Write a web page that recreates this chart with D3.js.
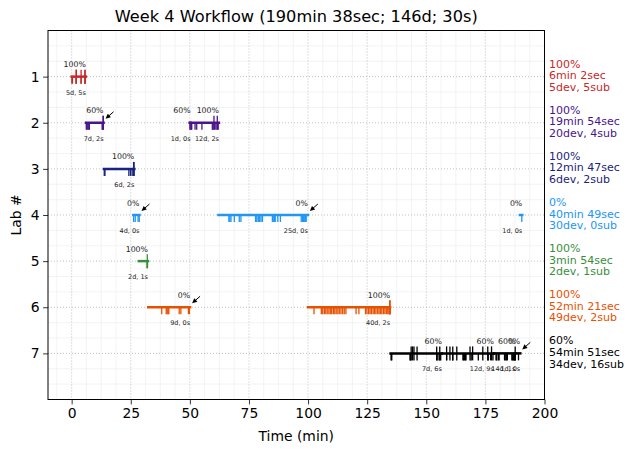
<!DOCTYPE html>
<html><head><meta charset="utf-8">
<script src="https://cdn.jsdelivr.net/npm/d3@7"></script>
<style>body{margin:0;background:#fff}svg{display:block}text{font-family:"DejaVu Sans",sans-serif}</style>
</head><body><svg id="c" width="634" height="453"></svg>
<script>
const title = "Week 4 Workflow (190min 38sec; 146d; 30s)";
const labs = [1, 2, 3, 4, 5, 6, 7];
const xTicks = [0, 25, 50, 75, 100, 125, 150, 175, 200];
const sumPct = ["100%", "100%", "100%", "0%", "100%", "100%", "60%"];
const sumTime = ["6min 2sec", "19min 54sec", "12min 47sec", "40min 49sec", "3min 54sec", "52min 21sec", "54min 51sec"];
const sumDev = [5, 20, 6, 30, 2, 49, 34];
const sumSub = [5, 4, 2, 0, 1, 2, 16];

const segLab   = [1, 2, 2, 2, 3, 4, 4, 4, 5, 6, 6, 7, 7, 7, 7];
const segStart = [0, 6.1, 49.9, 50.3, 13.7, 26.1, 62.1, 189.6, 28.4, 32.4, 100.0, 134.9, 156.6, 178.6, 187.7];
const segEnd   = [6.03, 13.5, 50.3, 62.3, 26.5, 28.7, 99.9, 190.6, 32.3, 50.1, 134.7, 156.6, 178.6, 187.7, 189.75];
const segPct   = ["100%", "60%", "60%", "100%", "100%", "0%", "0%", "0%", "100%", "0%", "100%", "60%", "60%", "60%", "0%"];
const segArrow = [false, true, false, false, false, true, true, false, false, true, false, false, false, false, true];
const segDevTimes = [
  [0.1, 0.35, 1.9, 4.0, 5.7],
  [6.2, 6.6, 7.0, 7.4, 7.5, 12.9, 13.2],
  [50.0],
  [50.4, 50.6, 50.8, 52.2, 52.9, 55.1, 59.5, 59.8, 60.4, 61.0, 61.6, 62.0],
  [13.8, 14.1, 24.2, 24.9, 25.6, 26.3],
  [26.2, 26.9, 28.1, 28.6],
  [66.5, 66.9, 67.4, 68.8, 70.9, 71.6, 77.8, 78.3, 78.9, 79.2, 79.5, 80.1, 80.7, 84.9, 85.5, 85.8, 86.1, 87.2, 88.3, 97.1, 97.6, 98.1, 98.6, 98.9, 99.2],
  [190.4],
  [31.9, 32.1],
  [38.1, 40.0, 40.4, 40.8, 41.1, 45.5, 46.2, 49.4, 49.8],
  [102.5, 105.6, 106.2, 106.9, 107.5, 108.1, 108.8, 109.4, 110.0, 110.7, 111.3, 111.9, 112.6, 113.2, 113.9, 114.6, 115.3, 116.0, 120.3, 121.5,
   124.3, 124.9, 125.6, 126.2, 126.8, 127.5, 128.1, 128.7, 129.4, 130.0, 130.6, 131.2, 131.9, 132.5, 133.1, 133.7, 134.2, 134.5, 134.6, 134.7],
  [135.1, 135.4, 143.1, 143.4, 154.6, 155.4, 156.1],
  [158.6, 161.2, 165.5, 165.8, 166.1, 166.5, 166.8, 169.0, 172.0, 176.2, 177.2, 178.2],
  [179.5, 179.8, 180.5, 180.8, 183.1, 183.4, 184.0, 184.3, 186.2, 186.5, 186.8, 187.1, 187.4, 187.6],
  [189.0]
];
const segSubTimes = [
  [1.9, 2.0, 4.0, 5.6, 5.7],
  [13.3, 13.4],
  [],
  [60.2, 61.6],
  [26.2, 26.4],
  [],
  [],
  [],
  [32.0],
  [],
  [134.5, 134.7],
  [143.6, 144.2, 144.8, 146.1, 154.4, 155.7],
  [158.6, 160.0, 161.2, 162.9, 168.5, 169.6, 173.9, 176.0, 177.6],
  [187.6],
  []
];

const palette = ["#c62828", "#4a148c", "#1a237e", "#2196f3", "#388e3c", "#e65100", "#000000"];

const svg = d3.select("#c");
const L = 48, R = 544.5, T = 30.5, B = 399.5;
const x = d3.scaleLinear().domain([-10, 200]).range([L, R]);
const y = d3.scaleLinear().domain([0, 8]).range([T, B]);
const col = lab => palette[lab - 1];

// minor grid
const g = svg.append("g");
const minorX = d3.range(-6.25, 200, 6.25).filter(v => v % 25 !== 0);
g.selectAll(".mx").data(minorX).join("line")
  .attr("x1", d => x(d)).attr("x2", d => x(d)).attr("y1", T).attr("y2", B)
  .attr("stroke", "#f0f0f0").attr("stroke-width", 0.8);
const minorY = d3.range(1, 24).map(i => i / 3).filter(v => Math.abs(v - Math.round(v)) > 0.01);
g.selectAll(".my").data(minorY).join("line")
  .attr("x1", L).attr("x2", R).attr("y1", d => y(d)).attr("y2", d => y(d))
  .attr("stroke", "#f0f0f0").attr("stroke-width", 0.8);
// major grid
g.selectAll(".gx").data(xTicks).join("line")
  .attr("x1", d => x(d)).attr("x2", d => x(d)).attr("y1", T).attr("y2", B)
  .attr("stroke", "#b0b0b0").attr("stroke-width", 0.8).attr("stroke-dasharray", "1,2");
g.selectAll(".gy").data(labs).join("line")
  .attr("x1", L).attr("x2", R).attr("y1", d => y(d)).attr("y2", d => y(d))
  .attr("stroke", "#b0b0b0").attr("stroke-width", 0.8).attr("stroke-dasharray", "1,2");

// axes
const xAxis = d3.axisBottom(x).tickValues(xTicks).tickSize(4.9).tickPadding(3.5);
const ax = svg.append("g").attr("transform", `translate(0,${B})`).call(xAxis);
ax.select(".domain").remove();
ax.selectAll("text").attr("font-size", 13.9).attr("fill", "#000").attr("font-family", "DejaVu Sans");
ax.selectAll("line").attr("stroke", "#000").attr("stroke-width", 0.8);
const yAxis = d3.axisLeft(y).tickValues(labs).tickSize(4.9).tickPadding(3.5);
const ay = svg.append("g").attr("transform", `translate(${L},0)`).call(yAxis);
ay.select(".domain").remove();
ay.selectAll("text").attr("font-size", 13.9).attr("fill", "#000").attr("font-family", "DejaVu Sans");
ay.selectAll("line").attr("stroke", "#000").attr("stroke-width", 0.8);

// segments
const segs = segLab.map((lab, i) => ({lab, s: segStart[i], e: segEnd[i], pct: segPct[i], arrow: segArrow[i],
  devs: segDevTimes[i], subs: segSubTimes[i]}));
const sg = svg.append("g");
segs.forEach(d => {
  const c = col(d.lab), yy = y(d.lab);
  sg.append("line").attr("x1", x(d.s)).attr("x2", x(d.e)).attr("y1", yy).attr("y2", yy)
    .attr("stroke", c).attr("stroke-width", 2.5).attr("stroke-linecap", "square");
  sg.selectAll(null).data(d.devs).join("line")
    .attr("x1", t => x(t)).attr("x2", t => x(t)).attr("y1", yy).attr("y2", yy + 7)
    .attr("stroke", c).attr("stroke-width", 1.3);
  sg.selectAll(null).data(d.subs).join("line")
    .attr("x1", t => x(t)).attr("x2", t => x(t)).attr("y1", yy - 7).attr("y2", yy + 7)
    .attr("stroke", c).attr("stroke-width", 1.3);
  sg.append("text").attr("x", x(d.e)).attr("y", yy - 9.5).attr("text-anchor", "end")
    .attr("font-size", 7.8).attr("fill", "#222").text(d.pct);
  sg.append("text").attr("x", x(d.e)).attr("y", yy + 18).attr("text-anchor", "end")
    .attr("font-size", 6.5).attr("fill", "#222").text(`${d.devs.length}d, ${d.subs.length}s`);
  if (d.arrow) {
    const x2 = x(d.e) + 2, y2 = yy - 4, x1 = x(d.e) + 10, y1 = yy - 11;
    sg.append("line").attr("x1", x1).attr("y1", y1).attr("x2", x2 + 3).attr("y2", y2 - 2.6)
      .attr("stroke", "#000").attr("stroke-width", 1);
    const ang = Math.atan2(y2 - y1, x2 - x1);
    const hl = 5, hw = 2.4;
    const bx = x2 - hl * Math.cos(ang), by = y2 - hl * Math.sin(ang);
    const px = -Math.sin(ang) * hw, py = Math.cos(ang) * hw;
    sg.append("path").attr("d", `M${x2},${y2}L${bx + px},${by + py}L${bx - px},${by - py}Z`).attr("fill", "#000");
  }
});

// frame
svg.append("rect").attr("x", L).attr("y", T).attr("width", R - L).attr("height", B - T)
  .attr("fill", "none").attr("stroke", "#000").attr("stroke-width", 1);

// right summaries
labs.forEach((lab, i) => {
  const t = svg.append("text").attr("x", 549).attr("y", y(lab)).attr("font-size", 11).attr("fill", col(lab));
  const lines = [sumPct[i], sumTime[i], `${sumDev[i]}dev, ${sumSub[i]}sub`];
  lines.forEach((s, k) => t.append("tspan").attr("x", 549).attr("y", y(lab) - 9 + k * 11.6).text(s));
});

// titles
svg.append("text").attr("x", (L + R) / 2).attr("y", 22).attr("text-anchor", "middle").attr("font-size", 16.2).text(title);
svg.append("text").attr("x", (L + R) / 2).attr("y", 441).attr("text-anchor", "middle").attr("font-size", 13.9).text("Time (min)");
svg.append("text").attr("transform", `translate(21,${(T + B) / 2}) rotate(-90)`).attr("text-anchor", "middle").attr("font-size", 13.9).text("Lab #");
</script></body></html>
